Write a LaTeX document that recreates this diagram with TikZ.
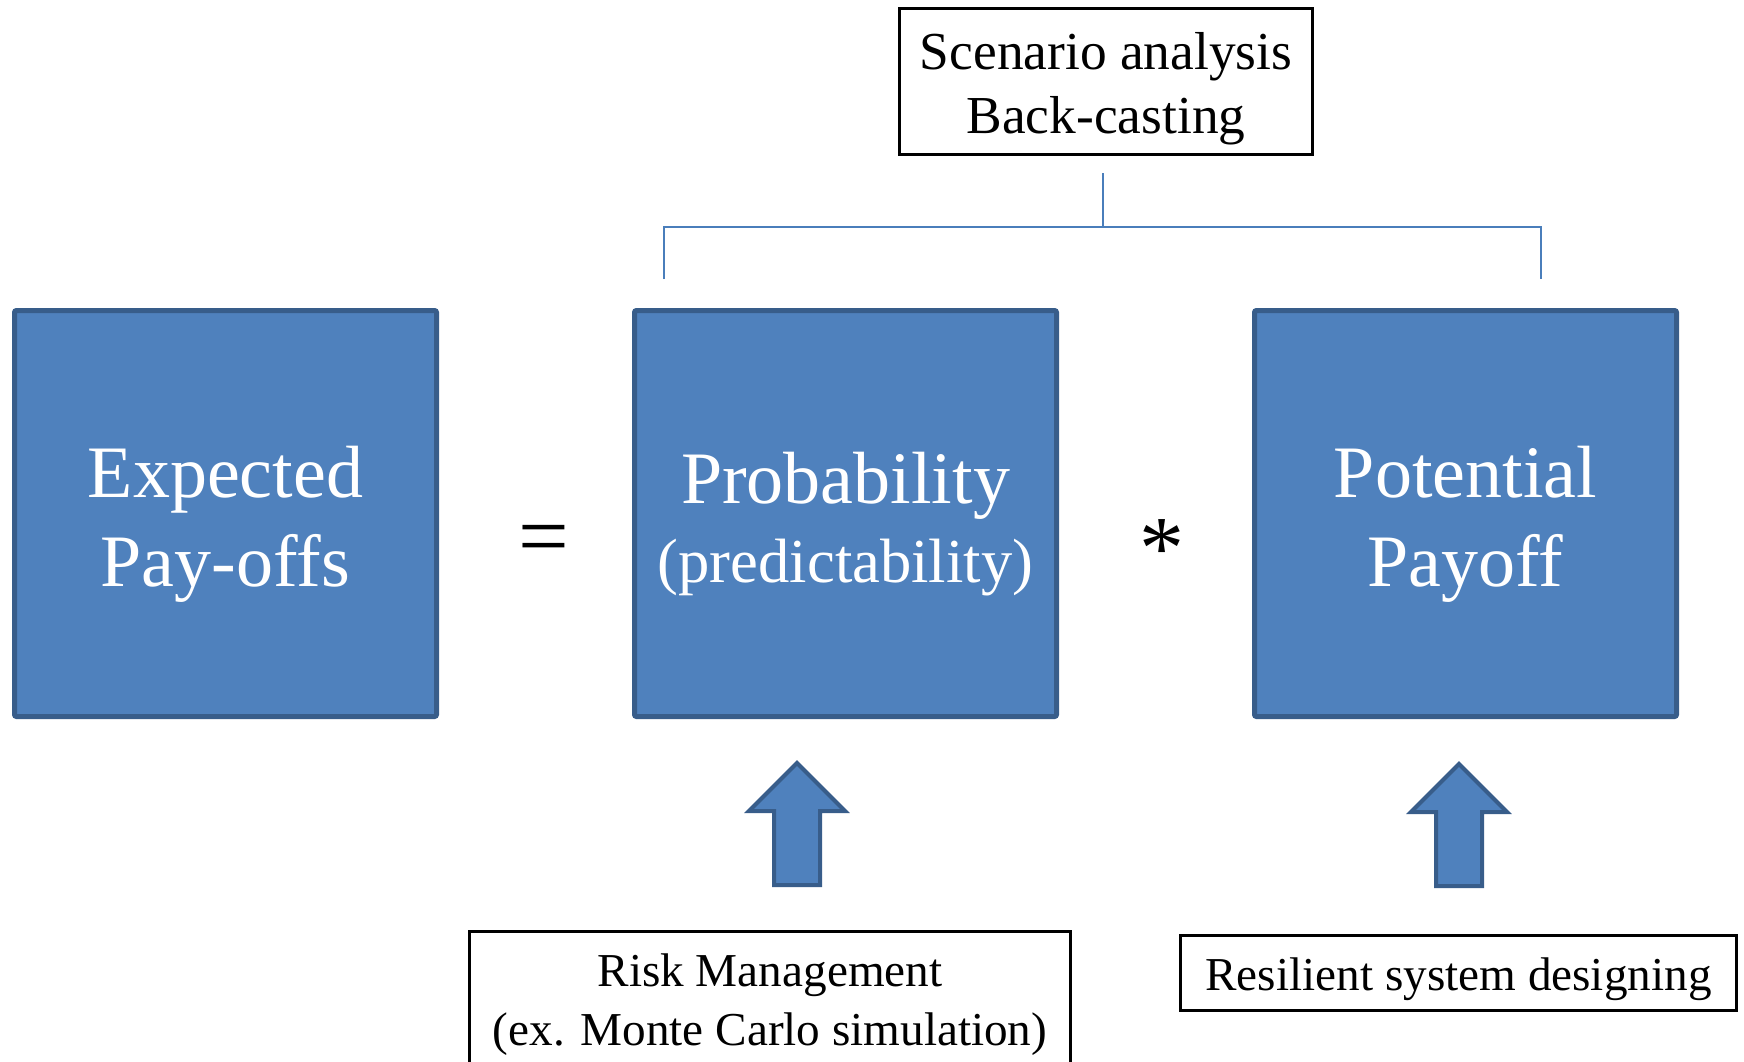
\documentclass[tikz,border=0pt]{standalone}
\usepackage{fontspec}
\setmainfont{Liberation Serif}
\usetikzlibrary{calc}
\definecolor{boxfill}{HTML}{4F81BD}
\definecolor{boxline}{HTML}{385D8A}
\definecolor{linkblue}{HTML}{4A7EBB}
\begin{document}
\begin{tikzpicture}[x=0.5pt,y=-0.5pt,
  bluebox/.style={draw=boxline, fill=boxfill, line width=2.5pt, rounded corners=1pt,
    minimum width=211pt, minimum height=203pt, inner sep=0pt},
  plainbox/.style={draw=black, line width=1.5pt, fill=white, inner sep=0pt},
  bigtext/.style={text=white, inner sep=0pt, anchor=base, font=\fontsize{37}{44}\selectfont},
  midtext/.style={text=white, inner sep=0pt, anchor=base, font=\fontsize{31.3}{36}\selectfont},
  toptext/.style={text=black, inner sep=0pt, anchor=base, font=\fontsize{26.7}{32}\selectfont},
  lowtext/.style={text=black, inner sep=0pt, anchor=base, font=\fontsize{23.6}{28}\selectfont},
  optext/.style={text=black, inner sep=0pt, anchor=base, font=\fontsize{45}{50}\selectfont},
  bracket/.style={draw=linkblue, line width=0.75pt},
  blockarrow/.style={draw=boxline, fill=boxfill, line width=2pt, line join=miter},
  uparr/.pic={\draw[blockarrow] (0,0) -- (48,48) -- (23,48) -- (23,122) -- (-23,122)
    -- (-23,48) -- (-48,48) -- cycle;}
]
\useasboundingbox (0,0) rectangle (1744,1061);
\fill[white] (0,0) rectangle (1744,1061);
\clip (0,0) rectangle (1744,1061);

% the three factor boxes
\node[bluebox] (expbox) at (225.5,513.5) {};
\node[bluebox] (probbox) at (845.5,513.5) {};
\node[bluebox] (potbox) at (1465.5,513.5) {};

\node[bigtext] (expA) at (225.5,497) {Expected};
\node[bigtext] (expB) at (225.5,586) {Pay-offs};
\node[bigtext] (probA) at (845.5,503) {Probability};
\node[midtext] (probB) at (845.5,582) {(predictability)};
\node[bigtext] (potA) at (1465.5,497) {Potential};
\node[bigtext] (potB) at (1465.5,586) {Payoff};

% operators
\node[optext] (eq) at (544,566) {=};
\node[optext] (mult) at (1162,578) {*};

% method box on top and its bracket
\node[plainbox, minimum width=206.5pt, minimum height=73pt] (scen) at (1106,81.5) {};
\node[toptext] (scenA) at (1106,69) {Scenario analysis};
\node[toptext] (scenB) at (1106,133) {Back-casting};

\coordinate (brTop) at (1103,173);
\coordinate (brMid) at (1103,227);
\coordinate (brL) at (664,227);
\coordinate (brLe) at (664,279);
\coordinate (brR) at (1541,227);
\coordinate (brRe) at (1541,279);
\draw[bracket] (brTop) -- (brMid);
\draw[bracket] (brLe) -- (brL) -- (brR) -- (brRe);

% upward block arrows
\pic at (797,763) {uparr};
\pic at (1459,764) {uparr};

% method boxes below
\node[plainbox, minimum width=300.5pt, minimum height=84pt] (risk) at (770,1015.5) {};
\node[lowtext] (riskA) at (770,986) {Risk Management};
\node[lowtext] (riskB) at (770,1045) {(ex. Monte Carlo simulation)};

\node[plainbox, minimum width=278pt, minimum height=37.5pt] (resil) at (1458.5,973) {};
\node[lowtext] (resilA) at (1458.5,990) {Resilient system designing};
\end{tikzpicture}
\end{document}
